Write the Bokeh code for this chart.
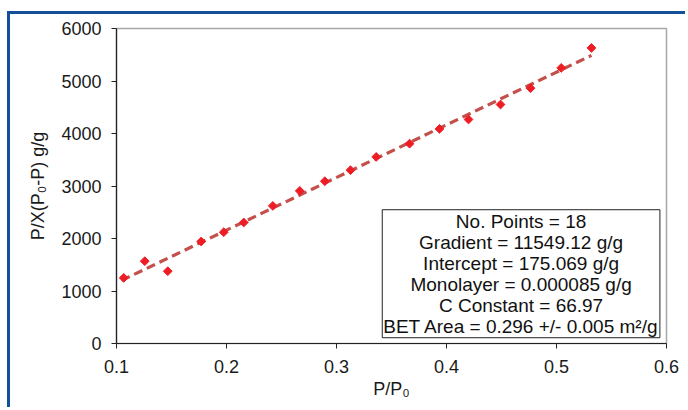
import numpy as np
from bokeh.plotting import figure
from bokeh.models import Range1d, FixedTicker, Label
from bokeh.embed import file_html
from bokeh.resources import INLINE

# Data
p_p0 = [0.1066, 0.1257, 0.1466, 0.1770, 0.1975, 0.2157, 0.2421, 0.2666, 0.2894,
        0.3127, 0.3361, 0.3664, 0.3936, 0.4200, 0.4491, 0.4764, 0.5043, 0.5318]
bet_y = [1250, 1568, 1377, 1943, 2120, 2305, 2621, 2907, 3091,
         3301, 3554, 3806, 4088, 4267, 4552, 4863, 5250, 5630]
x_ticks = [0.1, 0.2, 0.3, 0.4, 0.5, 0.6]
y_ticks = [0, 1000, 2000, 3000, 4000, 5000, 6000]
stats_lines = [
    "No. Points = 18",
    "Gradient = 11549.12 g/g",
    "Intercept = 175.069 g/g",
    "Monolayer = 0.000085 g/g",
    "C Constant = 66.97",
    "BET Area = 0.296 +/- 0.005 m\u00b2/g",
]

FONT = "Liberation Sans"
BLUE = "#14509a"

p = figure(width=678, height=396, output_backend="svg", toolbar_location=None,
           x_range=Range1d(0.1, 0.6), y_range=Range1d(0, 6000),
           min_border_left=106, min_border_right=22, min_border_top=14,
           min_border_bottom=67)
p.styles = {"border-top": f"3px solid {BLUE}", "border-left": f"3px solid {BLUE}",
            "margin-left": "7px", "margin-top": "11px"}

p.xgrid.visible = False
p.ygrid.visible = False
p.outline_line_color = "#a8a8a8"
p.outline_line_width = 1.5

for ax in (p.xaxis[0], p.yaxis[0]):
    ax.axis_line_color = "#222222"
    ax.axis_line_width = 1.2
    ax.major_tick_line_color = "#222222"
    ax.major_tick_out = 5
    ax.major_tick_in = 0
    ax.minor_tick_out = 0
    ax.minor_tick_in = 0
    ax.major_label_text_font = FONT
    ax.major_label_text_font_size = "18px"
    ax.major_label_text_color = "#1a1a1a"
    ax.axis_label_text_font = FONT
    ax.axis_label_text_font_size = "18px"
    ax.axis_label_text_font_style = "normal"
    ax.axis_label_text_color = "#1a1a1a"

p.xaxis.ticker = FixedTicker(ticks=x_ticks)
p.yaxis.ticker = FixedTicker(ticks=y_ticks)
p.xaxis.major_label_standoff = 11
p.yaxis.major_label_standoff = 10
p.xaxis.axis_label = "P/P\u2080"
p.yaxis.axis_label = "P/X(P\u2080-P) g/g"
p.xaxis.axis_label_standoff = 3
p.yaxis.axis_label_standoff = 10

# linear trend line from the data
xs = np.array(p_p0)
ys = np.array(bet_y)
slope, intercept = np.polyfit(xs, ys, 1)
lx = np.array([xs.min() - 0.002, xs.max()])
p.line(lx, slope * lx + intercept, line_color="#c4504c", line_width=3.2,
       line_dash="9 5")

p.scatter(p_p0, bet_y, marker="square", angle=np.pi / 4, size=6.2,
          fill_color="#ee1c24", line_color="#ee1c24")

stats = Label(x=0.4678, y=110, x_units="data", y_units="data",
              text="\n".join(stats_lines), text_align="center",
              text_baseline="bottom", text_font=FONT, text_font_size="19px",
              text_color="#111111", text_line_height=1.0,
              border_line_color="#222222", border_line_width=1,
              background_fill_color="white", padding=1)
p.add_layout(stats)

open("out.html", "w").write(file_html(p, INLINE))
